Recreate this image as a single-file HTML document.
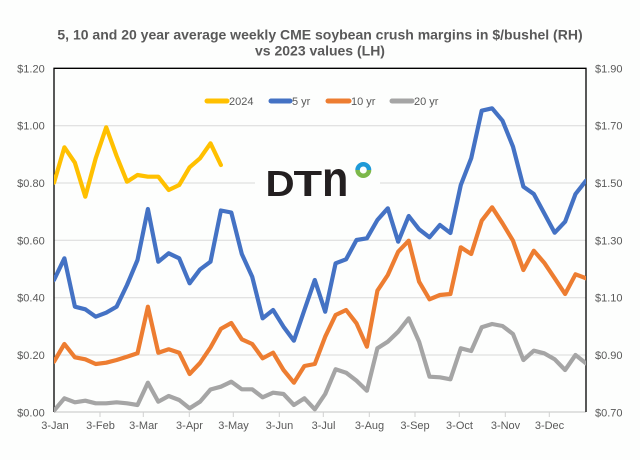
<!DOCTYPE html>
<html>
<head>
<meta charset="utf-8">
<style>
  html,body{margin:0;padding:0;background:#ffffff;}
  svg{display:block;}
  text{font-family:"Liberation Sans",Arial,sans-serif;}
</style>
</head>
<body>
<svg width="640" height="460" viewBox="0 0 640 460" xmlns="http://www.w3.org/2000/svg">
  <rect x="0" y="0" width="640" height="460" fill="#fdfefd"/>
  <defs>
    <clipPath id="plot">
      <rect x="54" y="60" width="532" height="360"/>
    </clipPath>
  </defs>

  <!-- Title -->
  <text x="320" y="39.5" text-anchor="middle" font-size="14" font-weight="bold" fill="#595959">5, 10 and 20 year average weekly CME soybean crush margins in $/bushel (RH)</text>
  <text x="320" y="55.5" text-anchor="middle" font-size="14" font-weight="bold" fill="#595959">vs 2023 values (LH)</text>

  <!-- gridlines -->
  <g stroke="#d9d9d9" stroke-width="1">
    <line x1="54" y1="125.7" x2="586" y2="125.7"/>
    <line x1="54" y1="183" x2="586" y2="183"/>
    <line x1="54" y1="240.3" x2="586" y2="240.3"/>
    <line x1="54" y1="297.7" x2="586" y2="297.7"/>
    <line x1="54" y1="355" x2="586" y2="355"/>
  </g>
  <!-- x axis -->
  <line x1="54" y1="412" x2="586" y2="412" stroke="#d0d0d0" stroke-width="1.2"/>
  <g stroke="#d0d0d0" stroke-width="1">
    <line x1="100" y1="412" x2="100" y2="417"/>
    <line x1="143.3" y1="412" x2="143.3" y2="417"/>
    <line x1="189.3" y1="412" x2="189.3" y2="417"/>
    <line x1="233.3" y1="412" x2="233.3" y2="417"/>
    <line x1="279.3" y1="412" x2="279.3" y2="417"/>
    <line x1="323.3" y1="412" x2="323.3" y2="417"/>
    <line x1="369.3" y1="412" x2="369.3" y2="417"/>
    <line x1="415" y1="412" x2="415" y2="417"/>
    <line x1="459.3" y1="412" x2="459.3" y2="417"/>
    <line x1="505.3" y1="412" x2="505.3" y2="417"/>
    <line x1="549.3" y1="412" x2="549.3" y2="417"/>
  </g>

  <!-- border top/left/right -->
  <polyline points="54,412 54,68.3 586,68.3 586,412" fill="none" stroke="#000" stroke-width="1.3"/>

  <!-- DTN logo -->
  <rect x="255" y="150" width="125" height="58" fill="#fdfefd"/>
  <text transform="translate(265.5,196) scale(1.12,1)" x="0" y="0" font-size="36" font-weight="bold" fill="#231f20">D</text>
  <text transform="translate(293.5,196) scale(1.3,1)" x="0" y="0" font-size="36" font-weight="bold" fill="#231f20">T</text>
  <text transform="translate(322,196) scale(1.2,1.39)" x="0" y="0" font-size="36" font-weight="bold" fill="#231f20">n</text>
  <path d="M355.3,170 A8,8 0 0 1 371.3,170 Z" fill="#1e9ad8"/>
  <path d="M355.3,170 A8,8 0 0 0 371.3,170 Z" fill="#7cb84a"/>
  <circle cx="363.3" cy="170" r="3.5" fill="#fdfefd"/>

  <!-- Legend -->
  <g stroke-width="5" stroke-linecap="round">
    <line x1="207" y1="101" x2="227" y2="101" stroke="#FFC000"/>
    <line x1="271" y1="101" x2="290" y2="101" stroke="#4472C4"/>
    <line x1="328" y1="101" x2="349" y2="101" stroke="#ED7D31"/>
    <line x1="392" y1="101" x2="412" y2="101" stroke="#A5A5A5"/>
  </g>
  <g font-size="11" fill="#595959">
    <text x="229" y="105">2024</text>
    <text x="292" y="105">5 yr</text>
    <text x="351" y="105">10 yr</text>
    <text x="414" y="105">20 yr</text>
  </g>

  <!-- Series -->
  <g clip-path="url(#plot)" fill="none" stroke-width="4.2" stroke-linejoin="round" stroke-linecap="round">
    <!-- 20 yr -->
    <polyline stroke="#A5A5A5" points="54,410.7 64.4,398.3 74.9,402.3 85.3,400.7 95.7,403.3 106.2,403.3 116.6,402.3 127,403.3 137.5,405 147.9,382.7 158.3,401.7 168.7,396 179.2,400 189.6,408.3 200,401.7 210.5,389.5 220.9,386.7 231.3,381.7 241.8,389.3 252.2,389.3 262.6,397.3 273.1,392.7 283.5,394 293.9,405 304.4,398.3 314.8,409.3 325.2,394 335.6,369.3 346.1,372.7 356.5,380.7 366.9,390.7 377.4,348.3 387.8,341.7 398.2,331.7 408.7,318.3 419.1,341.7 429.5,376.7 439.9,377.3 450.4,379.3 460.8,348.3 471.2,351 481.7,327.3 492.1,324 502.5,326 513,334 523.4,360 533.8,350.7 544.2,353.3 554.7,359.3 565.1,370 575.5,355 586,363.3"/>
    <!-- 10 yr -->
    <polyline stroke="#ED7D31" points="54,361.7 64.4,344 74.9,357.3 85.3,359.3 95.7,364 106.2,362.7 116.6,360 127,356.7 137.5,353.3 147.9,306.7 158.3,352.7 168.7,349.3 179.2,352.7 189.6,374 200,363 210.5,347.5 220.9,328.8 231.3,323 241.8,339.3 252.2,344 262.6,358.3 273.1,352.7 283.5,370 293.9,382.7 304.4,366 314.8,364 325.2,336.7 335.6,315 346.1,310 356.5,323.3 366.9,346.7 377.4,290.7 387.8,275 398.2,251.7 408.7,240.7 419.1,281.7 429.5,299.3 439.9,295 450.4,294 460.8,247.3 471.2,254 481.7,220.7 492.1,207.3 502.5,223.3 513,240.7 523.4,270 533.8,250.7 544.2,262.7 554.7,278.3 565.1,294 575.5,274.3 586,278.3"/>
    <!-- 5 yr -->
    <polyline stroke="#4472C4" points="54,280 64.4,258.3 74.9,306.7 85.3,309.3 95.7,316.7 106.2,312.7 116.6,306.7 127,285 137.5,260 147.9,209 158.3,261.7 168.7,253.3 179.2,258.3 189.6,283.3 200,269.5 210.5,261.7 220.9,210.5 231.3,212.5 241.8,254 252.2,276.7 262.6,318.3 273.1,310 283.5,326.7 293.9,340.7 304.4,310 314.8,280 325.2,311.7 335.6,263.3 346.1,259.3 356.5,240 366.9,238.3 377.4,220 387.8,208.3 398.2,241.7 408.7,216 419.1,229.3 429.5,237.3 439.9,225 450.4,233 460.8,185 471.2,158.3 481.7,110.7 492.1,108.3 502.5,120.7 513,146.7 523.4,186.7 533.8,194 544.2,213.3 554.7,232.7 565.1,221.7 575.5,194 586,180.7"/>
    <!-- 2024 -->
    <polyline stroke="#FFC000" points="54,182.7 64.4,147.3 74.9,162.7 85.3,196.7 95.7,158.3 106.2,127.3 116.6,156 127,181.7 137.5,175 147.9,176.7 158.3,176.7 168.7,190 179.2,185 189.6,167.3 200,158.3 210.5,143.3 220.9,165"/>
  </g>

  <!-- Left axis labels -->
  <g font-size="11" fill="#595959" text-anchor="end">
    <text x="44.7" y="72.3">$1.20</text>
    <text x="44.7" y="129.7">$1.00</text>
    <text x="44.7" y="187">$0.80</text>
    <text x="44.7" y="244.3">$0.60</text>
    <text x="44.7" y="301.7">$0.40</text>
    <text x="44.7" y="359">$0.20</text>
    <text x="44.7" y="416.3">$0.00</text>
  </g>
  <!-- Right axis labels -->
  <g font-size="11" fill="#595959" text-anchor="start">
    <text x="595" y="72.3">$1.90</text>
    <text x="595" y="129.7">$1.70</text>
    <text x="595" y="187">$1.50</text>
    <text x="595" y="244.3">$1.30</text>
    <text x="595" y="301.7">$1.10</text>
    <text x="595" y="359">$0.90</text>
    <text x="595" y="416.3">$0.70</text>
  </g>
  <!-- X axis labels -->
  <g font-size="11" fill="#595959" text-anchor="middle">
    <text x="55" y="429">3-Jan</text>
    <text x="100.5" y="429">3-Feb</text>
    <text x="143.5" y="429">3-Mar</text>
    <text x="189.5" y="429">3-Apr</text>
    <text x="233.5" y="429">3-May</text>
    <text x="279.5" y="429">3-Jun</text>
    <text x="323.5" y="429">3-Jul</text>
    <text x="369.5" y="429">3-Aug</text>
    <text x="415" y="429">3-Sep</text>
    <text x="459.5" y="429">3-Oct</text>
    <text x="505.5" y="429">3-Nov</text>
    <text x="549.5" y="429">3-Dec</text>
  </g>
</svg>
</body>
</html>
